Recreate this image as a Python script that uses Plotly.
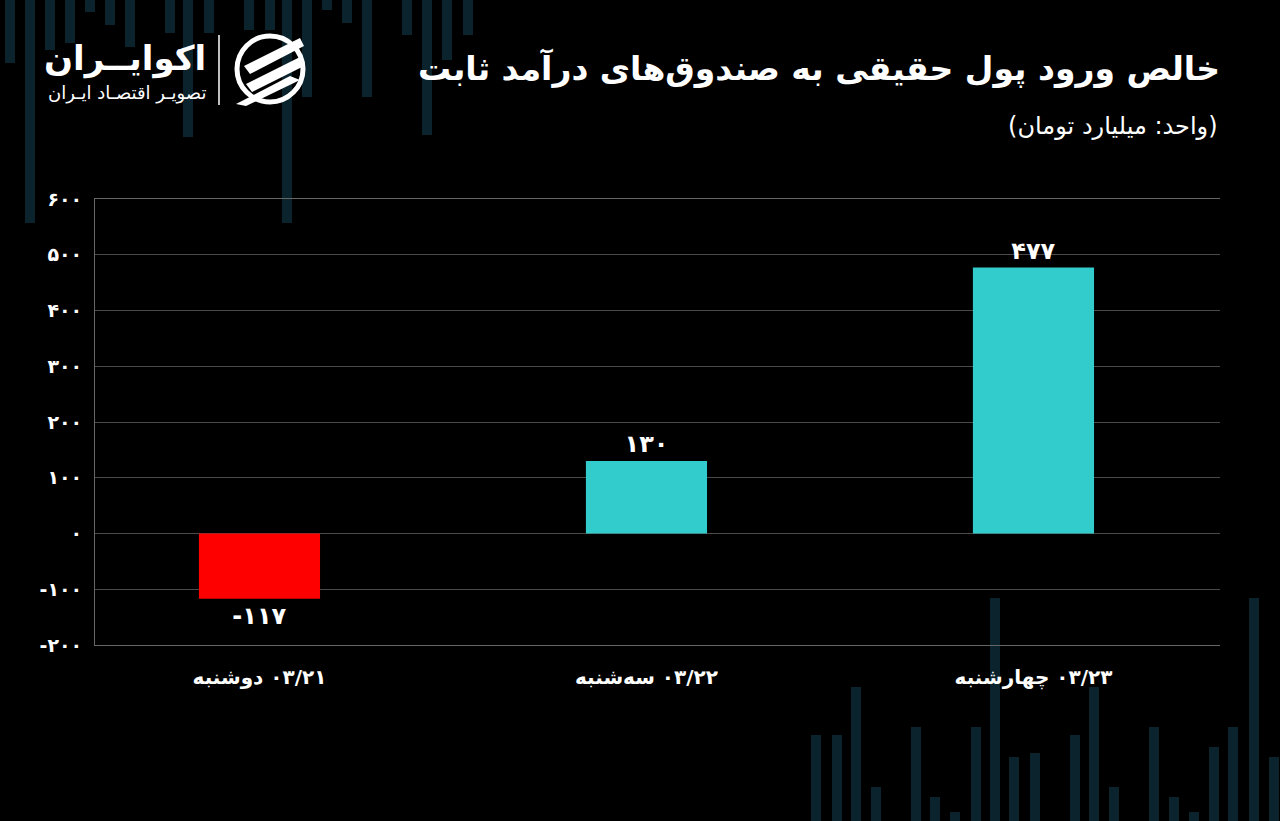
import plotly.graph_objects as go

# ---------------- data ----------------
dates = ["03/21", "03/22", "03/23"]
weekdays = ["دوشنبه", "سه‌شنبه", "چهارشنبه"]
values = [-117, 130, 477]
y_ticks = [-200, -100, 0, 100, 200, 300, 400, 500, 600]

title_text = "خالص ورود پول حقیقی به صندوق‌های درآمد ثابت"
subtitle_text = "(واحد: میلیارد تومان)"
logo_main = "اکوایــران"
logo_sub = "تصویـر اقتصـاد ایـران"

# decorative background stripes (page pixels)
deco_top_x = [10, 30, 50, 70, 90, 110, 130, 170, 188, 209, 249, 270, 287, 307, 327, 347, 367, 407, 427, 447, 468]
deco_top_len = [63, 223, 50, 43, 12, 25, 47, 33, 137, 33, 30, 30, 223, 97, 10, 23, 97, 35, 135, 60, 35]
deco_bot_x = [816, 837, 856, 876, 916, 935, 955, 976, 995, 1014, 1035, 1075, 1094, 1114, 1154, 1174, 1194, 1214, 1233, 1254, 1274]
deco_bot_top = [735, 735, 687, 787, 727, 797, 812, 727, 598, 757, 753, 735, 687, 787, 727, 797, 812, 747, 727, 598, 757]

W, H = 1280, 821
FA = str.maketrans("0123456789", "۰۱۲۳۴۵۶۷۸۹")


def fa(s):
    return str(s).translate(FA)


cats = [f"{w} \u200e{fa(d)}" for w, d in zip(weekdays, dates)]
bar_colors = ["#ff0000" if v < 0 else "#33cccc" for v in values]
labels = [f"<b>{fa(v)}</b>" for v in values]

FONT = "DejaVu Sans"

fig = go.Figure()

# decorative stripes on a full-page pixel axis
fig.add_trace(go.Bar(
    x=deco_top_x, y=deco_top_len, base=[0] * len(deco_top_x), width=10,
    marker=dict(color="#0a232d", line=dict(width=0)),
    xaxis="x", yaxis="y", hoverinfo="skip", showlegend=False,
))
fig.add_trace(go.Bar(
    x=deco_bot_x, y=[H - t for t in deco_bot_top], base=deco_bot_top, width=10,
    marker=dict(color="#0a232d", line=dict(width=0)),
    xaxis="x", yaxis="y", hoverinfo="skip", showlegend=False,
))

# main bars
fig.add_trace(go.Bar(
    x=cats, y=values, width=0.313,
    marker=dict(color=bar_colors, line=dict(width=0)),
    text=labels, textposition="outside", cliponaxis=False,
    textfont=dict(family=FONT, size=24, color="white"),
    xaxis="x2", yaxis="y2", showlegend=False,
))

grid = "#4a4a4a"
fig.update_layout(
    template="none",
    width=W, height=H, autosize=False,
    margin=dict(l=0, r=0, t=0, b=0, pad=0, autoexpand=False),
    paper_bgcolor="#000000", plot_bgcolor="rgba(0,0,0,0)",
    barmode="overlay", showlegend=False,
    xaxis=dict(domain=[0, 1], range=[0, W], visible=False, fixedrange=True, automargin=False),
    yaxis=dict(domain=[0, 1], range=[H, 0], visible=False, fixedrange=True, automargin=False),
    xaxis2=dict(
        domain=[95 / W, 1220 / W], anchor="y2", type="category",
        range=[-0.425, 2.482], automargin=False,
        showgrid=False, showline=True, mirror=True, linecolor="#666666", linewidth=1,
        ticks="outside", ticklen=14, tickcolor="rgba(0,0,0,0)",
        tickprefix="<b>", ticksuffix="</b>",
        tickfont=dict(family=FONT, size=20, color="white"),
    ),
    yaxis2=dict(
        domain=[1 - 645 / H, 1 - 199 / H], anchor="x2",
        range=[-200, 600], automargin=False,
        tickvals=y_ticks, ticktext=[f"<b>{fa(t)}</b>" for t in y_ticks],
        showgrid=True, gridcolor=grid, gridwidth=1,
        zeroline=False, showline=True, linecolor="#666666", linewidth=1,
        ticks="outside", ticklen=8, tickcolor="rgba(0,0,0,0)",
        tickfont=dict(family=FONT, size=19, color="white"),
    ),
    font=dict(family=FONT, color="white"),
)

annos = [
    dict(text=f"<b>{title_text}</b>", x=1222, y=68, xanchor="right", yanchor="middle",
         font=dict(family=FONT, size=33, color="white")),
    dict(text=subtitle_text, x=1220, y=126, xanchor="right", yanchor="middle",
         font=dict(family=FONT, size=24, color="white")),
    dict(text=f"<b>{logo_main}</b>", x=208, y=58, xanchor="right", yanchor="middle",
         font=dict(family=FONT, size=34, color="white")),
    dict(text=logo_sub, x=208, y=93, xanchor="right", yanchor="middle",
         font=dict(family=FONT, size=18, color="white")),
]
for a in annos:
    a.update(xref="x", yref="y", showarrow=False)
fig.update_layout(annotations=annos)

# logo icon and divider
shapes = [
    dict(type="line", x0=219, x1=219, y0=35, y1=105, line=dict(color="white", width=1.5)),
    dict(type="circle", x0=237, x1=303, y0=36, y1=102, line=dict(color="white", width=5)),
    dict(type="path", path="M 244 66 L 300 38 L 304 46 L 250 74 Z", fillcolor="white", line=dict(width=0)),
    dict(type="path", path="M 246 84 L 302 56 L 304 66 L 252 92 Z", fillcolor="white", line=dict(width=0)),
    dict(type="path", path="M 236 104 L 290 76 L 300 80 L 246 106 Z", fillcolor="white", line=dict(width=0)),
]
for s in shapes:
    s.update(xref="x", yref="y", layer="above")
fig.update_layout(shapes=shapes)

fig.write_html("out.html")
